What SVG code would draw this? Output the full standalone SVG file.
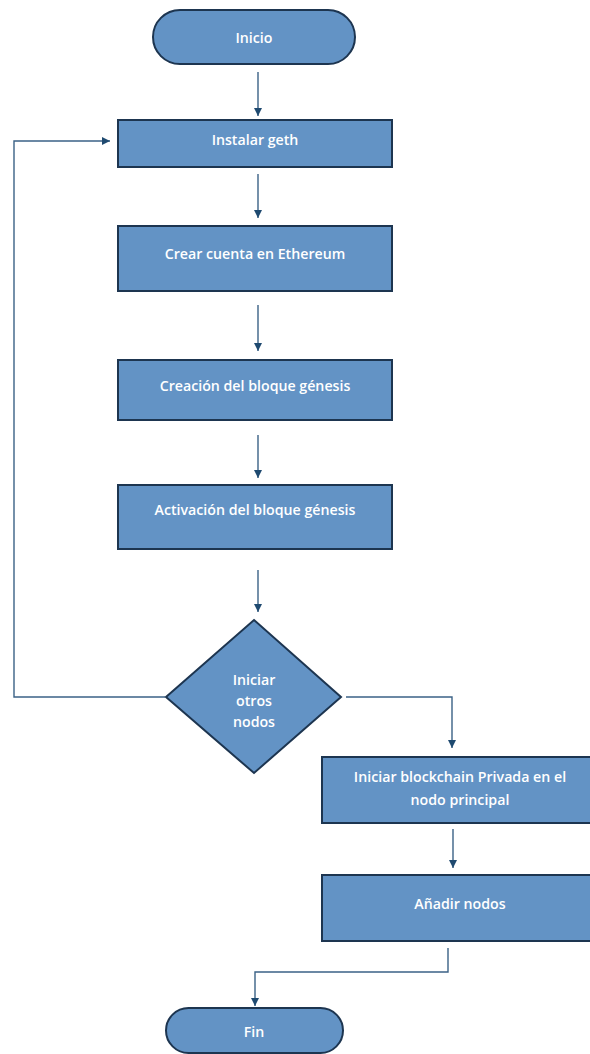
<svg xmlns="http://www.w3.org/2000/svg" width="590" height="1054" viewBox="0 0 590 1054">
<style>
.n{fill:#6393c5;stroke:#1d3550;stroke-width:2}
.t{font-family:"Open Sans","Liberation Sans",sans-serif;font-size:14.2px;font-weight:600;fill:#ffffff;text-anchor:middle;dominant-baseline:central}
.c{fill:none;stroke:#3b6286;stroke-width:1.4}
</style>
<defs>
<marker id="ah" viewBox="0 0 10 10" refX="10" refY="5" markerWidth="8" markerHeight="8" markerUnits="userSpaceOnUse" orient="auto">
<path d="M0,0 L10,5 L0,10 Z" fill="#1f4a70"/>
</marker>
</defs>
<rect width="590" height="1054" fill="#ffffff"/>
<g id="connectors">
<path class="c" d="M258,72 V116" marker-end="url(#ah)"/>
<path class="c" d="M258,174 V218" marker-end="url(#ah)"/>
<path class="c" d="M258,305 V351" marker-end="url(#ah)"/>
<path class="c" d="M258,435 V478" marker-end="url(#ah)"/>
<path class="c" d="M258,570 V612" marker-end="url(#ah)"/>
<path class="c" d="M165,697 H14 V141 H110" marker-end="url(#ah)"/>
<path class="c" d="M346,697 H452 V748" marker-end="url(#ah)"/>
<path class="c" d="M453,829 V868" marker-end="url(#ah)"/>
<path class="c" d="M448,948 V972 H255 V1006" marker-end="url(#ah)"/>
</g>
<g id="inicio">
<rect class="n" x="153" y="10" width="202" height="54" rx="27"/>
<text class="t" x="254" y="37">Inicio</text>
</g>
<g id="instalar">
<rect class="n" x="118" y="120" width="274" height="47"/>
<text class="t" x="255" y="139">Instalar geth</text>
</g>
<g id="crear">
<rect class="n" x="118" y="226" width="274" height="65"/>
<text class="t" x="255" y="253">Crear cuenta en Ethereum</text>
</g>
<g id="creacion">
<rect class="n" x="118" y="360" width="274" height="60"/>
<text class="t" x="255" y="385">Creación del bloque génesis</text>
</g>
<g id="activacion">
<rect class="n" x="118" y="485" width="274" height="64"/>
<text class="t" x="255" y="509">Activación del bloque génesis</text>
</g>
<g id="decision">
<path class="n" d="M254,620 L341,697 L254,773 L166,697 Z"/>
<text class="t" x="254" y="679">Iniciar</text>
<text class="t" x="254" y="700">otros</text>
<text class="t" x="254" y="721">nodos</text>
</g>
<g id="iniciar-blockchain">
<rect class="n" x="322" y="757" width="273" height="66"/>
<text class="t" x="460" y="776">Iniciar blockchain Privada en el</text>
<text class="t" x="460" y="799">nodo principal</text>
</g>
<g id="anadir">
<rect class="n" x="322" y="875" width="273" height="66"/>
<text class="t" x="460" y="903">Añadir nodos</text>
</g>
<g id="fin">
<rect class="n" x="166" y="1008" width="177" height="45" rx="22.5"/>
<text class="t" x="254" y="1031">Fin</text>
</g>
</svg>
